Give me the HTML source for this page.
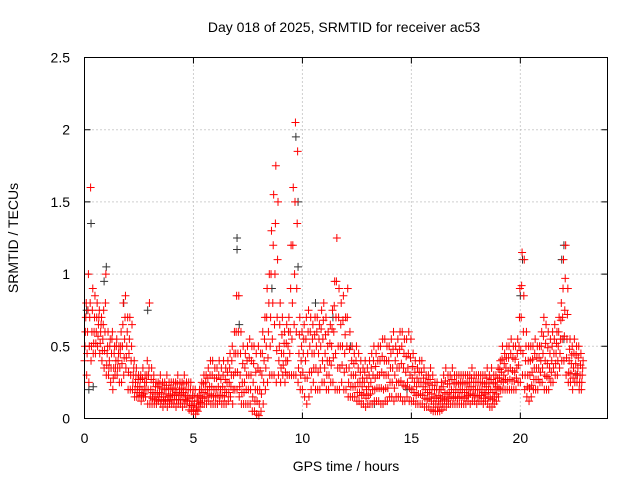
<!DOCTYPE html>
<html><head><meta charset="utf-8"><style>
body{margin:0;background:#fff;}
svg{display:block;font-family:"Liberation Sans",sans-serif;}
</style></head><body>
<svg id="chart" width="640" height="480">
<rect width="640" height="480" fill="#fff"/>
<g id="grid"></g>
<g id="axes"></g>
<g id="marks"></g>
<rect x="84.5" y="57.5" width="523" height="361" fill="none" stroke="#000"/>
<text x="344" y="32" font-size="14" text-anchor="middle">Day 018 of 2025, SRMTID for receiver ac53</text>
<text x="346" y="471" font-size="14" text-anchor="middle">GPS time / hours</text>
<text x="18" y="238" font-size="14" text-anchor="middle" transform="rotate(-90 18 238)">SRMTID / TECUs</text>
</svg>
<script>
const xTicks=[0,5,10,15,20];
const yTicks=[0,0.5,1,1.5,2,2.5];
const yTickLabels=["0","0.5","1","1.5","2","2.5"];
const hiVals=[0.8,1.0,1.6,0.9,0.85,0.8,0.75,0.7,0.75,1.0,0.6,0.55,0.6,0.5,0.55,0.5,0.6,0.8,0.85,0.7,0.7,0.65,0.4,0.35,0.3,0.3,0.35,0.3,0.4,0.8,0.35,0.3,0.25,0.25,0.3,0.25,0.25,0.3,0.25,0.25,0.25,0.25,0.3,0.25,0.25,0.3,0.25,0.25,0.25,0.2,0.2,0.15,0.2,0.25,0.3,0.3,0.35,0.4,0.4,0.35,0.35,0.4,0.35,0.4,0.35,0.4,0.45,0.5,0.6,0.85,0.85,0.6,0.5,0.45,0.5,0.55,0.5,0.5,0.45,0.5,0.45,0.6,0.7,0.9,1.0,1.3,1.55,1.75,1.5,0.8,0.7,0.6,0.65,0.7,1.2,1.6,2.05,1.85,0.7,0.6,0.65,0.7,0.75,0.7,0.65,0.7,0.7,0.65,0.75,0.8,0.7,0.6,0.65,0.75,0.95,1.25,0.9,0.8,0.85,0.7,0.9,0.6,0.5,0.45,0.5,0.45,0.4,0.35,0.4,0.35,0.4,0.45,0.5,0.45,0.5,0.5,0.55,0.55,0.5,0.5,0.55,0.6,0.5,0.55,0.6,0.6,0.55,0.55,0.6,0.55,0.45,0.4,0.35,0.4,0.4,0.35,0.3,0.3,0.35,0.3,0.25,0.25,0.2,0.25,0.3,0.35,0.3,0.3,0.35,0.3,0.3,0.3,0.3,0.3,0.3,0.3,0.3,0.35,0.3,0.3,0.3,0.3,0.3,0.3,0.35,0.3,0.35,0.3,0.3,0.35,0.4,0.5,0.45,0.5,0.5,0.55,0.5,0.5,0.55,0.9,1.15,1.1,0.6,0.5,0.5,0.5,0.55,0.5,0.5,0.6,0.7,0.65,0.6,0.55,0.6,0.65,0.6,0.7,0.8,1.1,1.2,0.9,0.55,0.5,0.55,0.5,0.5,0.45,0.4];
const q3Vals=[0.7,0.75,0.8,0.75,0.7,0.7,0.7,0.65,0.65,0.8,0.5,0.5,0.55,0.45,0.5,0.45,0.5,0.65,0.7,0.6,0.55,0.5,0.35,0.3,0.27,0.27,0.28,0.25,0.3,0.35,0.27,0.25,0.22,0.22,0.24,0.21,0.2,0.23,0.2,0.21,0.21,0.2,0.24,0.2,0.21,0.24,0.2,0.2,0.2,0.16,0.15,0.12,0.16,0.2,0.24,0.25,0.28,0.3,0.3,0.28,0.28,0.3,0.27,0.3,0.27,0.32,0.35,0.4,0.45,0.6,0.6,0.45,0.38,0.35,0.4,0.42,0.4,0.38,0.32,0.35,0.33,0.45,0.55,0.7,0.8,1.0,1.2,1.35,1.1,0.65,0.58,0.52,0.52,0.6,0.9,1.2,1.5,1.35,0.58,0.5,0.55,0.55,0.6,0.6,0.55,0.58,0.6,0.55,0.62,0.68,0.58,0.5,0.52,0.62,0.78,0.95,0.7,0.65,0.68,0.58,0.7,0.48,0.4,0.38,0.4,0.35,0.32,0.28,0.32,0.28,0.3,0.35,0.4,0.36,0.4,0.4,0.43,0.4,0.4,0.4,0.45,0.48,0.4,0.45,0.48,0.5,0.45,0.43,0.45,0.42,0.36,0.32,0.28,0.32,0.32,0.28,0.25,0.24,0.27,0.23,0.2,0.2,0.16,0.2,0.22,0.26,0.24,0.24,0.27,0.24,0.25,0.24,0.25,0.25,0.24,0.25,0.25,0.28,0.25,0.25,0.25,0.25,0.25,0.24,0.28,0.25,0.27,0.24,0.25,0.28,0.34,0.41,0.38,0.42,0.42,0.45,0.42,0.41,0.45,0.7,0.92,0.85,0.5,0.4,0.4,0.41,0.45,0.42,0.42,0.5,0.57,0.52,0.49,0.45,0.5,0.55,0.52,0.6,0.68,0.9,0.97,0.72,0.48,0.44,0.45,0.44,0.42,0.37,0.35];
const midVals=[0.6,0.6,0.7,0.6,0.6,0.6,0.65,0.6,0.55,0.6,0.45,0.4,0.45,0.35,0.4,0.4,0.45,0.5,0.55,0.5,0.45,0.4,0.3,0.25,0.22,0.22,0.2,0.2,0.25,0.3,0.2,0.18,0.17,0.17,0.18,0.17,0.15,0.17,0.15,0.16,0.17,0.16,0.18,0.16,0.17,0.18,0.16,0.15,0.14,0.12,0.1,0.08,0.12,0.15,0.18,0.2,0.2,0.22,0.22,0.2,0.2,0.22,0.2,0.22,0.2,0.25,0.25,0.3,0.3,0.45,0.45,0.3,0.25,0.25,0.3,0.3,0.3,0.25,0.2,0.2,0.2,0.3,0.4,0.5,0.6,0.7,0.8,1.0,0.7,0.5,0.45,0.45,0.4,0.5,0.6,0.8,1.0,0.9,0.45,0.4,0.45,0.4,0.45,0.5,0.45,0.45,0.5,0.45,0.5,0.55,0.45,0.4,0.4,0.5,0.6,0.7,0.5,0.5,0.5,0.45,0.5,0.35,0.3,0.3,0.3,0.25,0.25,0.22,0.25,0.2,0.22,0.25,0.3,0.28,0.3,0.3,0.32,0.3,0.3,0.3,0.35,0.35,0.3,0.35,0.35,0.38,0.35,0.32,0.35,0.3,0.28,0.25,0.22,0.25,0.25,0.22,0.2,0.18,0.2,0.17,0.15,0.14,0.12,0.14,0.15,0.18,0.17,0.18,0.2,0.18,0.2,0.18,0.2,0.2,0.18,0.2,0.2,0.22,0.2,0.2,0.2,0.2,0.2,0.18,0.22,0.2,0.2,0.18,0.2,0.22,0.28,0.32,0.3,0.35,0.33,0.35,0.33,0.32,0.35,0.5,0.7,0.6,0.4,0.3,0.3,0.32,0.35,0.35,0.35,0.4,0.45,0.4,0.38,0.35,0.4,0.45,0.45,0.5,0.55,0.7,0.75,0.55,0.4,0.38,0.35,0.38,0.35,0.3,0.3];
const q1Vals=[0.5,0.45,0.5,0.5,0.52,0.52,0.57,0.52,0.47,0.47,0.37,0.35,0.35,0.28,0.35,0.35,0.35,0.38,0.42,0.42,0.32,0.3,0.25,0.2,0.18,0.18,0.16,0.17,0.2,0.2,0.15,0.14,0.13,0.13,0.15,0.13,0.12,0.13,0.12,0.13,0.13,0.13,0.13,0.13,0.13,0.13,0.13,0.12,0.1,0.09,0.08,0.06,0.08,0.11,0.14,0.15,0.15,0.17,0.16,0.15,0.15,0.16,0.16,0.16,0.15,0.18,0.18,0.22,0.2,0.32,0.32,0.22,0.18,0.18,0.2,0.2,0.2,0.15,0.12,0.12,0.1,0.17,0.25,0.35,0.42,0.5,0.55,0.65,0.47,0.4,0.35,0.37,0.32,0.4,0.45,0.55,0.65,0.6,0.35,0.3,0.32,0.28,0.28,0.32,0.32,0.35,0.35,0.32,0.35,0.4,0.35,0.3,0.3,0.37,0.42,0.45,0.35,0.35,0.37,0.32,0.35,0.25,0.22,0.22,0.22,0.18,0.18,0.16,0.17,0.14,0.16,0.17,0.2,0.2,0.21,0.21,0.21,0.2,0.21,0.21,0.25,0.25,0.21,0.25,0.25,0.26,0.23,0.22,0.25,0.21,0.2,0.18,0.16,0.17,0.17,0.16,0.14,0.13,0.14,0.12,0.1,0.1,0.08,0.1,0.1,0.13,0.12,0.14,0.15,0.14,0.15,0.14,0.15,0.15,0.14,0.15,0.16,0.17,0.16,0.16,0.15,0.16,0.16,0.14,0.17,0.15,0.14,0.13,0.15,0.17,0.21,0.26,0.25,0.27,0.26,0.27,0.26,0.26,0.28,0.37,0.47,0.45,0.3,0.22,0.21,0.23,0.27,0.27,0.27,0.32,0.35,0.3,0.29,0.28,0.32,0.35,0.38,0.4,0.45,0.55,0.57,0.42,0.32,0.31,0.28,0.31,0.3,0.25,0.25];
const loVals=[0.4,0.3,0.25,0.4,0.45,0.45,0.5,0.45,0.4,0.35,0.3,0.3,0.25,0.2,0.3,0.3,0.25,0.25,0.3,0.35,0.2,0.2,0.2,0.15,0.15,0.15,0.12,0.15,0.15,0.1,0.1,0.1,0.1,0.1,0.12,0.1,0.08,0.1,0.08,0.1,0.1,0.1,0.08,0.1,0.1,0.08,0.1,0.1,0.06,0.05,0.05,0.03,0.05,0.08,0.1,0.1,0.1,0.12,0.1,0.1,0.1,0.1,0.12,0.1,0.1,0.1,0.12,0.15,0.1,0.2,0.2,0.15,0.1,0.1,0.1,0.1,0.1,0.05,0.05,0.03,0.02,0.05,0.1,0.2,0.25,0.3,0.3,0.3,0.25,0.3,0.25,0.3,0.25,0.3,0.3,0.3,0.3,0.3,0.25,0.2,0.2,0.15,0.1,0.15,0.2,0.25,0.2,0.2,0.2,0.25,0.25,0.2,0.2,0.25,0.25,0.2,0.2,0.2,0.25,0.2,0.2,0.15,0.15,0.15,0.15,0.12,0.12,0.1,0.1,0.08,0.1,0.1,0.1,0.12,0.12,0.12,0.1,0.1,0.12,0.12,0.15,0.15,0.12,0.15,0.15,0.15,0.12,0.12,0.15,0.12,0.12,0.12,0.1,0.1,0.1,0.1,0.08,0.08,0.08,0.06,0.05,0.05,0.05,0.05,0.06,0.08,0.08,0.1,0.1,0.1,0.1,0.1,0.1,0.1,0.1,0.1,0.12,0.1,0.12,0.12,0.1,0.12,0.12,0.1,0.12,0.1,0.08,0.08,0.1,0.12,0.15,0.2,0.2,0.2,0.2,0.2,0.2,0.2,0.2,0.25,0.25,0.3,0.2,0.15,0.12,0.15,0.2,0.2,0.2,0.25,0.25,0.2,0.2,0.2,0.25,0.25,0.3,0.3,0.35,0.4,0.4,0.3,0.25,0.25,0.2,0.25,0.25,0.2,0.2];
const blackTimes=[0.1,0.2,0.3,0.4,0.9,1.0,1.8,2.9,7.0,7.0,7.1,8.6,9.7,9.8,9.8,10.6,11.4,12.2,13.3,14.8,20.0,20.1,21.9,22.0,22.0,22.6];
const blackVals=[0.75,0.2,1.35,0.22,0.95,1.05,0.8,0.75,1.25,1.17,0.65,0.9,1.95,1.05,1.5,0.8,0.7,0.5,0.1,0.2,0.85,1.1,1.1,1.2,0.55,0.3];

const X0=84.5,X1=607.5,Y0=418.5,Y1=57.5,XMAX=24,YMAX=2.5;
const xs=v=>X0+v/XMAX*(X1-X0);
const ys=v=>Y0-v/YMAX*(Y0-Y1);
const NS="http://www.w3.org/2000/svg";
const grid=document.getElementById('grid'),axes=document.getElementById('axes'),marks=document.getElementById('marks');
function mk(tag,attrs,parent){const e=document.createElementNS(NS,tag);for(const k in attrs)e.setAttribute(k,attrs[k]);parent.appendChild(e);return e;}
xTicks.forEach(t=>{
  const x=xs(t);
  if(t>0){const g=mk('line',{x1:x,x2:x,y1:Y0,y2:Y1,stroke:'#a0a0a0','stroke-dasharray':'1,3'},grid);
  
  }
  const tk=mk('path',{d:`M${x},${Y0}v-6M${x},${Y1}v6`,stroke:'#000'},axes);
  
  
  const l=mk('text',{x:x,y:443,'font-size':14,'text-anchor':'middle'},axes);l.textContent=String(t);
  
  
});
yTicks.forEach((t,i)=>{
  const y=ys(t);
  if(t>0&&t<YMAX){const g=mk('line',{x1:X0,x2:X1,y1:y,y2:y,stroke:'#a0a0a0','stroke-dasharray':'1,3'},grid);
  
  }
  const tk=mk('path',{d:`M${X0},${y}h6M${X1},${y}h-6`,stroke:'#000'},axes);
  
  
  const l=mk('text',{x:70,y:y+5,'font-size':14,'text-anchor':'end'},axes);l.textContent=yTickLabels[i];
  
  
});
function plus(t,v,col){
  const x=xs(t),y=ys(v);
  const p=mk('path',{d:`M${x-4},${y}h8M${x},${y-4}v8`,stroke:col,'stroke-width':1},marks);
  
  
}
blackTimes.forEach((t,i)=>plus(t,blackVals[i],'#333'));
hiVals.forEach((v,i)=>{
  const t=i*0.1;
  plus(t+0.08,v,'#f00');
  plus(t,loVals[i],'#f00');
  plus(t+0.02,q1Vals[i],'#f00');
  plus(t+0.04,midVals[i],'#f00');
  plus(t+0.06,q3Vals[i],'#f00');
});
</script>
</body></html>
